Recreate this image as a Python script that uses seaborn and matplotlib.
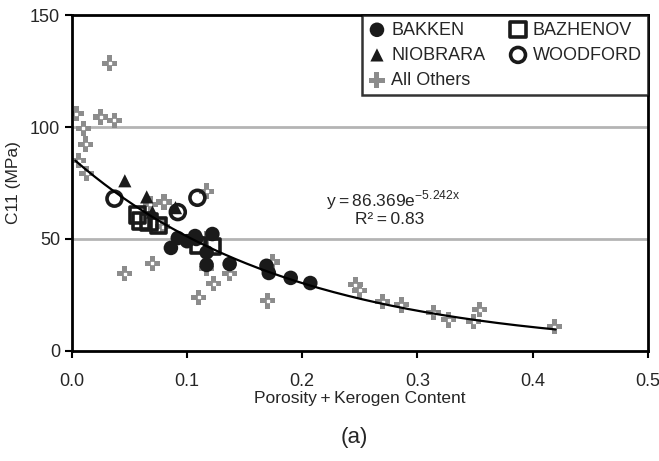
import numpy as np
import pandas as pd
import matplotlib
matplotlib.use("Agg")
import matplotlib.pyplot as plt
import seaborn as sns

# ---------------------------------------------------------
# data
# ---------------------------------------------------------
bakken_x = [0.086, 0.092, 0.107, 0.122, 0.117, 0.117, 0.137, 0.169, 0.171, 0.190, 0.207, 0.108, 0.100]
bakken_y = [46.0, 50.4, 51.3, 52.2, 44.0, 38.4, 38.8, 38.0, 34.8, 32.6, 30.3, 50.0, 49.0]

bazhenov_x = [0.057, 0.060, 0.067, 0.075, 0.110, 0.122]
bazhenov_y = [60.7, 58.0, 57.6, 56.0, 47.0, 46.5]

niobrara_x = [0.046, 0.065, 0.090, 0.070]
niobrara_y = [76.0, 68.8, 64.0, 62.0]

woodford_x = [0.037, 0.109, 0.092]
woodford_y = [68.0, 68.4, 62.0]

others_x = [0.004, 0.033, 0.025, 0.037, 0.010, 0.012, 0.006, 0.013,
            0.117, 0.080, 0.068, 0.079, 0.117, 0.070, 0.046, 0.117,
            0.123, 0.137, 0.110, 0.170, 0.174, 0.246, 0.250, 0.270,
            0.286, 0.314, 0.327, 0.349, 0.354, 0.419]
others_y = [106.0, 128.6, 104.5, 103.0, 99.5, 92.4, 85.0, 79.4,
            71.4, 66.5, 65.6, 55.4, 50.0, 39.2, 34.4, 37.0,
            30.0, 34.4, 24.0, 22.3, 39.7, 29.5, 27.0, 22.0,
            20.5, 17.0, 13.8, 13.0, 18.3, 10.7]

fit_a = 86.369
fit_b = -5.242

# ---------------------------------------------------------
# plot
# ---------------------------------------------------------
sns.set_style("white")
plt.rcParams["font.family"] = ["Liberation Sans", "DejaVu Sans"]
plt.rcParams["mathtext.fontset"] = "custom"
plt.rcParams["mathtext.rm"] = "Liberation Sans"

fig = plt.figure(figsize=(6.59, 4.61), dpi=100)
ax = fig.add_axes([0.109, 0.239, 0.874, 0.728])

ax.axhline(50, color="#b4b4b4", lw=2, zorder=0)
ax.axhline(100, color="#b4b4b4", lw=2, zorder=0)

sns.scatterplot(x=others_x, y=others_y, marker="P", s=120, color="#8c8c8c",
                edgecolor="none", ax=ax, zorder=2, label="All Others")
ax.scatter(others_x, others_y, marker="s", s=4, color="white", zorder=2.1)

sns.scatterplot(x=bakken_x, y=bakken_y, marker="o", s=110, color="#1a1a1a",
                edgecolor="none", ax=ax, zorder=3, label="BAKKEN")
sns.scatterplot(x=niobrara_x, y=niobrara_y, marker="^", s=90, color="#1a1a1a",
                edgecolor="none", ax=ax, zorder=3, label="NIOBRARA")
sns.scatterplot(x=bazhenov_x, y=bazhenov_y, marker="s", s=120, facecolor="none",
                edgecolor="#1a1a1a", linewidth=2.6, ax=ax, zorder=3, label="BAZHENOV")
sns.scatterplot(x=woodford_x, y=woodford_y, marker="o", s=115, facecolor="none",
                edgecolor="#1a1a1a", linewidth=2.6, ax=ax, zorder=3, label="WOODFORD")

xf = np.linspace(0.003, 0.42, 200)
sns.lineplot(x=xf, y=fit_a * np.exp(fit_b * xf), color="black", lw=1.6, ax=ax, zorder=4)

ax.text(0.279, 67.5, "y\u2009=\u200986.369e$^{\\mathrm{\u22125.242x}}$", ha="center",
        va="center", fontsize=12.5)
ax.text(0.276, 58.5, "R\u00b2\u2009=\u20090.83", ha="center", va="center", fontsize=12.5)

ax.set_xlim(0, 0.5)
ax.set_ylim(0, 150)
ax.set_xticks([0.0, 0.1, 0.2, 0.3, 0.4, 0.5])
ax.set_xticklabels(["0.0", "0.1", "0.2", "0.3", "0.4", "0.5"])
ax.set_yticks([0, 50, 100, 150])
ax.tick_params(axis="both", direction="out", length=5, width=1.5, labelsize=13,
               color="black", bottom=True, left=True)
ax.tick_params(axis="x", pad=11)
for sp in ax.spines.values():
    sp.set_color("black")
    sp.set_linewidth(2)

ax.set_xlabel("Porosity\u2009+\u2009Kerogen Content", fontsize=12.5, labelpad=1)
ax.set_ylabel("C11 (MPa)", fontsize=12.5, labelpad=6)

h, l = ax.get_legend_handles_labels()
order = ["BAKKEN", "NIOBRARA", "All Others", "BAZHENOV", "WOODFORD"]
hh = [h[l.index(o)] for o in order]
leg = ax.legend(hh, order, ncol=2, loc="upper right", bbox_to_anchor=(1.0, 1.0),
                frameon=True, fancybox=False, edgecolor="black", fontsize=13,
                handletextpad=0.3, columnspacing=1.3, borderaxespad=0,
                handlelength=1.0, labelspacing=0.45, borderpad=0.35)
leg.get_frame().set_linewidth(1.8)

fig.text(0.538, 0.05, "(a)", ha="center", va="center", fontsize=16)

fig.savefig("out.png", dpi=100)
